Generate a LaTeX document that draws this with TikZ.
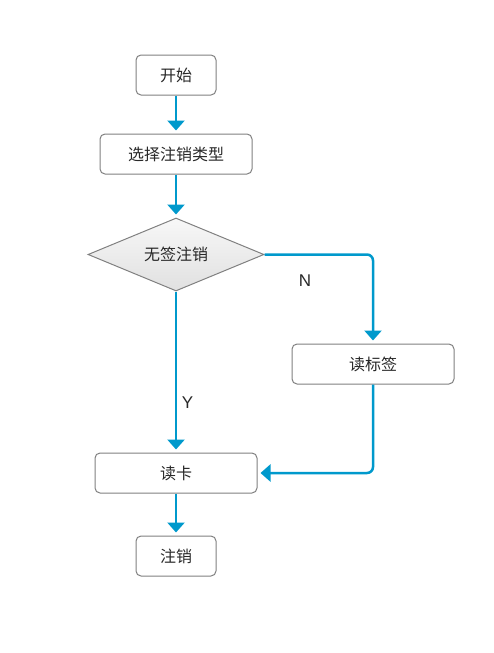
\documentclass[tikz,border=0pt]{standalone}
\usepackage{fontspec}
\setmainfont{Liberation Sans}
\newfontfamily\cjk{Noto Sans CJK SC}
\usetikzlibrary{shapes.geometric,arrows.meta}
\definecolor{flowblue}{RGB}{0,153,204}
\definecolor{edgegray}{RGB}{128,128,128}
\definecolor{txt}{RGB}{40,40,40}
\begin{document}
\begin{tikzpicture}[x=1pt,y=-1pt,
  stepbox/.style={draw=edgegray, line width=1pt, rounded corners=5pt, fill=white,
    minimum height=40pt, inner sep=0pt, text=txt, font=\cjk\fontsize{16}{18}\selectfont},
  decision/.style={diamond, draw=edgegray, line width=1pt, top color=white!97!black,
    bottom color=white!88!black, minimum width=176pt, minimum height=73pt,
    inner sep=0pt,
    label={[text=txt, font=\cjk\fontsize{16}{18}\selectfont]center:#1}},
  flow/.style={draw=flowblue, line width=2.5pt, rounded corners=6pt,
    -{Triangle[width=17pt,length=10pt]}, shorten >=3pt},
  lbl/.style={text=txt, font=\fontsize{17}{19}\selectfont}]
\useasboundingbox (0,0) rectangle (494,653);

\node[stepbox, minimum width=80pt]  (start)  at (176,75)    {开始};
\node[stepbox, minimum width=152pt] (choose) at (176,154)   {选择注销类型};
\node[decision=无签注销]            (check)  at (176,254.5) {};
\node[stepbox, minimum width=162pt] (tag)    at (373,364)   {读标签};
\node[stepbox, minimum width=162pt] (card)   at (176,473)   {读卡};
\node[stepbox, minimum width=80pt]  (cancel) at (176,556)   {注销};

\draw[flow] (start) -- (choose);
\draw[flow] (choose) -- (check);
\draw[flow] (check.east) -| (tag.north);
\draw[flow] (check.south) -- (card.north);
\draw[flow] (tag.south) |- (card.east);
\draw[flow] (card) -- (cancel);

\node[lbl] (nlabel) at (305,281) {N};
\node[lbl] (ylabel) at (187.5,403) {Y};
\end{tikzpicture}
\end{document}
